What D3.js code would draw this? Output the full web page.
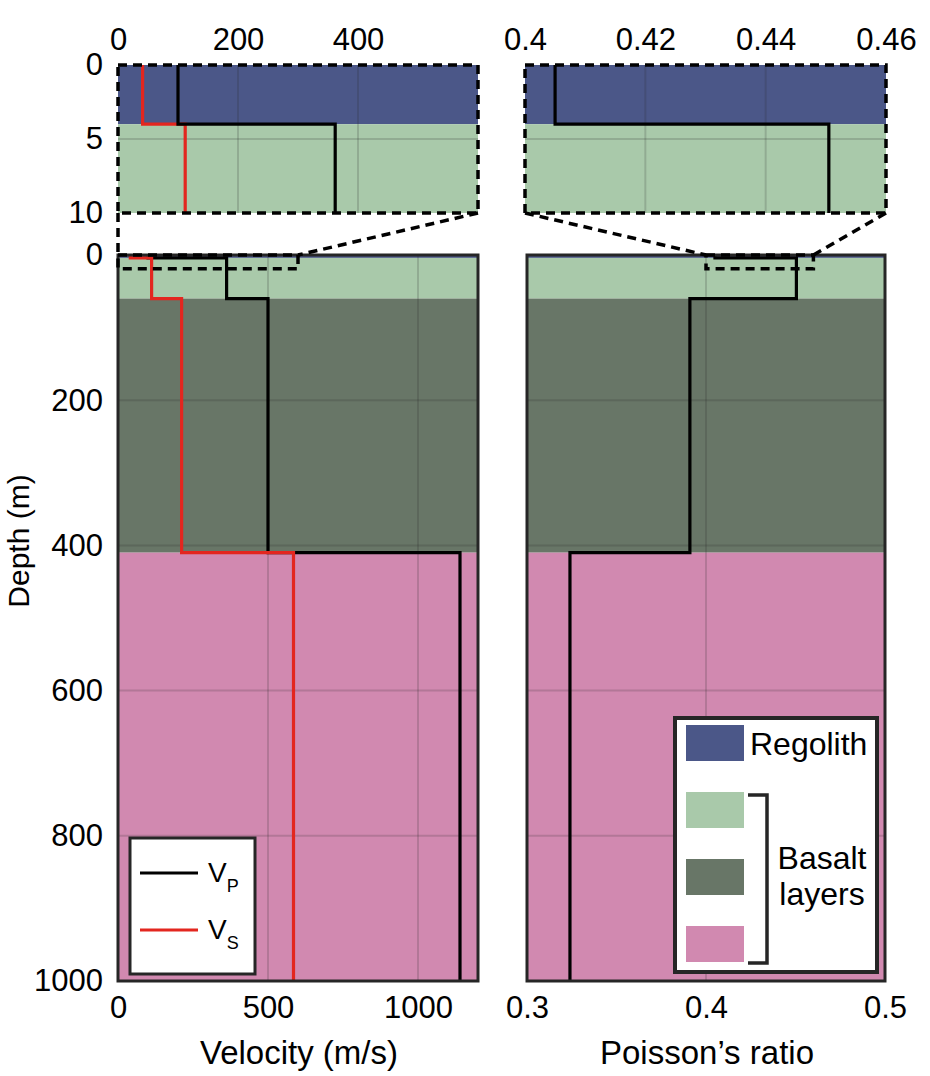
<!DOCTYPE html>
<html>
<head>
<meta charset="utf-8">
<script src="https://cdn.jsdelivr.net/npm/d3@7"></script>
<style>
  html, body { margin: 0; padding: 0; background: #fff; }
  text { font-family: "Liberation Sans", Arial, Helvetica, sans-serif; fill: #000; }
</style>
</head>
<body>
<svg id="chart" width="930" height="1076"></svg>
<script>
// ---------------- DATA ----------------
const layerNames   = ["Regolith", "Basalt 1", "Basalt 2", "Basalt 3"];
const layerTop     = [0, 4, 60, 410];       // m
const layerBottom  = [4, 60, 410, 1000];    // m
const layerColors  = ["#4b5788", "#a9c9aa", "#687667", "#d189b0"];
const vpValues     = [100, 362, 500, 1140]; // m/s
const vsValues     = [41, 112, 212, 585];   // m/s
const poissonVals  = [0.405, 0.4505, 0.391, 0.324];

const mainDepthTicks   = [0, 200, 400, 600, 800, 1000];
const insetDepthTicks  = [0, 5, 10];
const velTicks         = [0, 500, 1000];
const insetVelTicks    = [0, 200, 400];
const poisTicks        = [0.3, 0.4, 0.5];
const insetPoisTicks   = [0.4, 0.42, 0.44, 0.46];

const mainDepthDomain  = [0, 1000];
const insetDepthDomain = [0, 10];
const velDomain        = [0, 1200];
const insetVelDomain   = [0, 600];
const poisDomain       = [0.3, 0.5];
const insetPoisDomain  = [0.4, 0.46];
const zoomBoxDepth     = [0, 19];

// ---------------- LAYOUT ----------------
const svg = d3.select("#chart");
const FONT_TICK = 31, FONT_LABEL = 33;

const L = { x0: 118, x1: 478 };
const R = { x0: 527, x1: 885 };
const RI = { x0: 525, x1: 886 };
const insetY = [65, 213];
const mainY  = [255, 981];

const yMain  = d3.scaleLinear().domain(mainDepthDomain).range(mainY);
const yInset = d3.scaleLinear().domain(insetDepthDomain).range(insetY);
const xVel   = d3.scaleLinear().domain(velDomain).range([L.x0, L.x1]);
const xVelI  = d3.scaleLinear().domain(insetVelDomain).range([L.x0, L.x1]);
const xPois  = d3.scaleLinear().domain(poisDomain).range([R.x0, R.x1]);
const xPoisI = d3.scaleLinear().domain(insetPoisDomain).range([RI.x0, RI.x1]);

const defs = svg.append("defs");
let clipId = 0;

function panel(x, y, opts) {
  const id = "clip" + (clipId++);
  const [xa, xb] = x.range(), [ya, yb] = y.range();
  defs.append("clipPath").attr("id", id).append("rect")
    .attr("x", xa).attr("y", ya).attr("width", xb - xa).attr("height", yb - ya);
  const g = svg.append("g");
  const inner = g.append("g").attr("clip-path", `url(#${id})`);
  inner.selectAll("rect.layer").data(layerNames).join("rect")
    .attr("class", "layer")
    .attr("x", xa).attr("width", xb - xa)
    .attr("y", (d, i) => y(layerTop[i]))
    .attr("height", (d, i) => y(layerBottom[i]) - y(layerTop[i]))
    .attr("fill", (d, i) => layerColors[i]);
  inner.selectAll("line.gx").data(opts.xGrid).join("line")
    .attr("x1", d => x(d)).attr("x2", d => x(d)).attr("y1", ya).attr("y2", yb)
    .attr("stroke", "rgba(40,40,40,0.18)").attr("stroke-width", 2);
  inner.selectAll("line.gy").data(opts.yGrid).join("line")
    .attr("y1", d => y(d)).attr("y2", d => y(d)).attr("x1", xa).attr("x2", xb)
    .attr("stroke", "rgba(40,40,40,0.18)").attr("stroke-width", 2);
  opts.series.forEach(s => {
    const pts = [];
    s.values.forEach((v, i) => { pts.push([v, layerTop[i]]); pts.push([v, layerBottom[i]]); });
    inner.append("path")
      .attr("d", d3.line().x(d => x(d[0])).y(d => y(d[1]))(pts))
      .attr("fill", "none").attr("stroke", s.color).attr("stroke-width", 3.2);
  });
  const frame = g.append("rect")
    .attr("x", xa).attr("y", ya).attr("width", xb - xa).attr("height", yb - ya)
    .attr("fill", "none");
  if (opts.dashed) {
    frame.attr("stroke", "#000").attr("stroke-width", 3.5).attr("stroke-dasharray", "9,6");
  } else {
    frame.attr("stroke", "#262626").attr("stroke-width", 3);
  }
  return g;
}

panel(xVelI, yInset, {
  xGrid: [200, 400], yGrid: [5], dashed: true,
  series: [{ values: vsValues, color: "#e3261f" }, { values: vpValues, color: "#000" }]
});
panel(xPoisI, yInset, {
  xGrid: [0.42, 0.44], yGrid: [5], dashed: true,
  series: [{ values: poissonVals, color: "#000" }]
});
panel(xVel, yMain, {
  xGrid: [500, 1000], yGrid: [200, 400, 600, 800], dashed: false,
  series: [{ values: vpValues, color: "#000" }, { values: vsValues, color: "#e3261f" }]
});
panel(xPois, yMain, {
  xGrid: [0.4], yGrid: [200, 400, 600, 800], dashed: false,
  series: [{ values: poissonVals, color: "#000" }]
});

const dashStyle = sel => sel.attr("fill", "none").attr("stroke", "#000")
  .attr("stroke-width", 3.5).attr("stroke-dasharray", "9,6");

svg.append("rect").call(dashStyle)
  .attr("x", xVel(insetVelDomain[0])).attr("y", yMain(zoomBoxDepth[0]))
  .attr("width", xVel(insetVelDomain[1]) - xVel(insetVelDomain[0]))
  .attr("height", yMain(zoomBoxDepth[1]) - yMain(zoomBoxDepth[0]));
svg.append("rect").call(dashStyle)
  .attr("x", xPois(insetPoisDomain[0])).attr("y", yMain(zoomBoxDepth[0]))
  .attr("width", xPois(insetPoisDomain[1]) - xPois(insetPoisDomain[0]))
  .attr("height", yMain(zoomBoxDepth[1]) - yMain(zoomBoxDepth[0]));

const connectors = [
  [xVelI(insetVelDomain[0]), yInset(insetDepthDomain[1]), xVel(insetVelDomain[0]), yMain(0)],
  [xVelI(insetVelDomain[1]), yInset(insetDepthDomain[1]), xVel(insetVelDomain[1]), yMain(0)],
  [xPoisI(insetPoisDomain[0]), yInset(insetDepthDomain[1]), xPois(insetPoisDomain[0]), yMain(0)],
  [xPoisI(insetPoisDomain[1]), yInset(insetDepthDomain[1]), xPois(insetPoisDomain[1]), yMain(0)]
];
svg.selectAll("line.conn").data(connectors).join("line").call(dashStyle)
  .attr("x1", d => d[0]).attr("y1", d => d[1]).attr("x2", d => d[2]).attr("y2", d => d[3]);

// ---------------- AXES ----------------
function styleAxis(g) {
  g.attr("font-size", FONT_TICK).attr("font-family", "Liberation Sans, Arial, sans-serif");
  g.select(".domain").remove();
  g.selectAll(".tick line").remove();
  g.selectAll(".tick text").attr("font-size", FONT_TICK).attr("fill", "#000");
}
const fmtInt = d3.format("d");
svg.append("g").attr("transform", `translate(0,${insetY[0] - 12})`)
  .call(d3.axisTop(xVelI).tickValues(insetVelTicks).tickFormat(fmtInt).tickSize(0))
  .call(styleAxis);
svg.append("g").attr("transform", `translate(0,${insetY[0] - 12})`)
  .call(d3.axisTop(xPoisI).tickValues(insetPoisTicks).tickFormat(d => String(+d.toFixed(2))).tickSize(0))
  .call(styleAxis);
svg.append("g").attr("transform", `translate(${L.x0 - 12},0)`)
  .call(d3.axisLeft(yInset).tickValues(insetDepthTicks).tickFormat(fmtInt).tickSize(0))
  .call(styleAxis);
svg.append("g").attr("transform", `translate(${L.x0 - 12},0)`)
  .call(d3.axisLeft(yMain).tickValues(mainDepthTicks).tickFormat(fmtInt).tickSize(0))
  .call(styleAxis);
svg.append("g").attr("transform", `translate(0,${mainY[1] + 12})`)
  .call(d3.axisBottom(xVel).tickValues(velTicks).tickFormat(fmtInt).tickSize(0))
  .call(styleAxis);
svg.append("g").attr("transform", `translate(0,${mainY[1] + 12})`)
  .call(d3.axisBottom(xPois).tickValues(poisTicks).tickFormat(d => String(+d.toFixed(1))).tickSize(0))
  .call(styleAxis);

svg.append("text").attr("x", 299).attr("y", 1064)
  .attr("text-anchor", "middle").attr("font-size", FONT_LABEL).text("Velocity (m/s)");
svg.append("text").attr("x", 707).attr("y", 1064)
  .attr("text-anchor", "middle").attr("font-size", FONT_LABEL).text("Poisson\u2019s ratio");
svg.append("text").attr("transform", `translate(29,541) rotate(-90)`)
  .attr("text-anchor", "middle").attr("font-size", 30).text("Depth (m)");

// ---------------- LEGENDS ----------------
const lineLegend = [
  { name: "V", sub: "P", color: "#000" },
  { name: "V", sub: "S", color: "#e3261f" }
];
const lg = svg.append("g");
lg.append("rect").attr("x", 130).attr("y", 838).attr("width", 125).attr("height", 136)
  .attr("fill", "#fff").attr("stroke", "#262626").attr("stroke-width", 3);
lineLegend.forEach((d, i) => {
  const yy = 873 + i * 57;
  lg.append("line").attr("x1", 140).attr("x2", 198).attr("y1", yy).attr("y2", yy)
    .attr("stroke", d.color).attr("stroke-width", 3.2);
  const t = lg.append("text").attr("x", 208).attr("y", yy + 9).attr("font-size", 28);
  t.append("tspan").text(d.name);
  t.append("tspan").attr("font-size", 18).attr("dy", 10).text(d.sub);
});

const rg = svg.append("g");
rg.append("rect").attr("x", 675).attr("y", 718).attr("width", 202).attr("height", 254)
  .attr("fill", "#fff").attr("stroke", "#262626").attr("stroke-width", 4);
rg.selectAll("rect.sw").data(layerNames).join("rect").attr("class", "sw")
  .attr("x", 686).attr("width", 58)
  .attr("y", (d, i) => 725 + i * 67).attr("height", 36)
  .attr("fill", (d, i) => layerColors[i]);
rg.append("text").attr("x", 750).attr("y", 755).attr("font-size", 32).text(layerNames[0]);
rg.append("path").attr("d", "M748,795 H767 V963 H748")
  .attr("fill", "none").attr("stroke", "#262626").attr("stroke-width", 3.5);
rg.append("text").attr("x", 822).attr("y", 869).attr("text-anchor", "middle").attr("font-size", 32).text("Basalt");
rg.append("text").attr("x", 822).attr("y", 905).attr("text-anchor", "middle").attr("font-size", 32).text("layers");
</script>
</body>
</html>
